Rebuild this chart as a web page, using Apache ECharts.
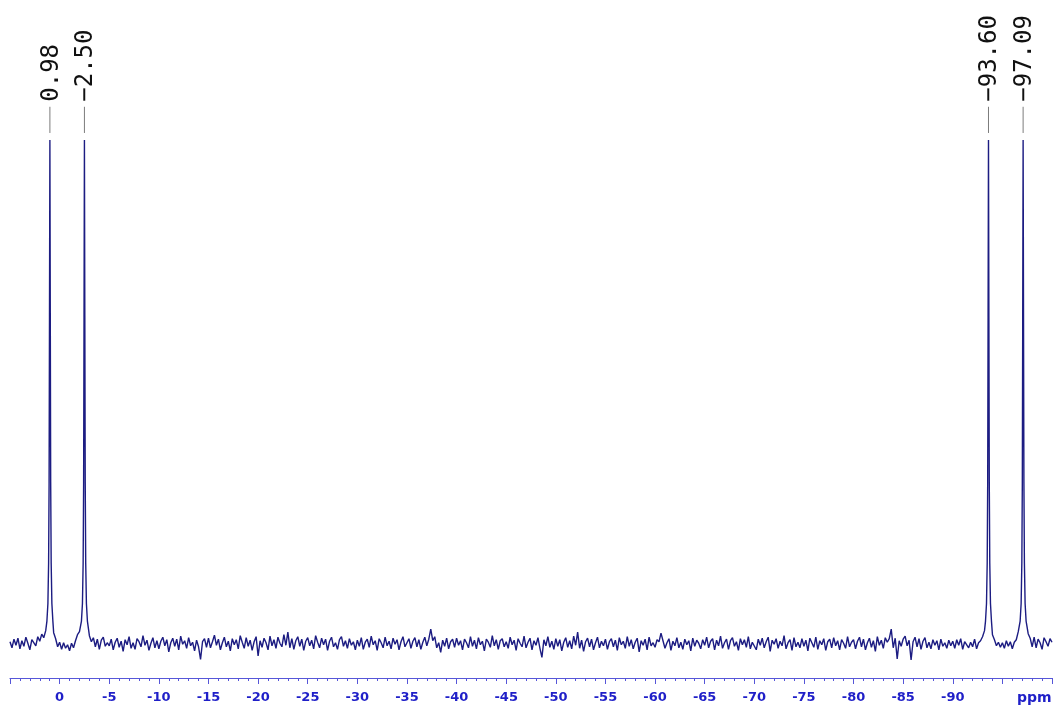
<!DOCTYPE html>
<html>
<head>
<meta charset="utf-8">
<script src="https://cdn.jsdelivr.net/npm/echarts@6.0.0/dist/echarts.min.js"></script>
<style>
  html, body { margin: 0; padding: 0; background: #ffffff; }
  #chart { width: 1056px; height: 709px; }
</style>
</head>
<body>
<div id="chart"></div>
<script>
// ---- Data ----
// Peak positions (ppm) and their printed labels
const peakPpm = [0.98, -2.50, -93.60, -97.09];
const peakLabels = ['0.98', '-2.50', '-93.60', '-97.09'];
// Peak line-shape samples: offset from peak centre (ppm) and relative intensity
const peakOffsets = [-0.3, -0.2, -0.13, -0.08, -0.04, 0, 0.04, 0.08, 0.13, 0.2, 0.3];
const peakHeights = [4.5, 8, 16, 32, 65, 100, 65, 32, 16, 8, 4.5];
// Baseline noise, sampled every 0.2 ppm from +5.0 to -100.0 ppm (null = under a peak)
const noiseStart = 5.0;
const noiseStep = 0.2;
const noise = [
  0.4, -0.8, 0.9, -0.3, 1.1, -1.0, 0.6, -0.5, 1.3, 0.1, -1.2, 0.8, 1.0, -0.4, 1.4, 0.5, 1.9, 1.2, 2.6, null, null, null, 2.2, 1.0, -0.6,
  0.3, -1.1, 0.2, -0.9, -0.2, -1.4, 0.1, -0.8, 0.6, 1.8, 2.4, null, null, null, null, 1.6, 0.4, 1.2, -0.6, 0.9, -1.1, 0.7, 1.3, -0.5, 0.2,
  -0.4, 0.9, -1.2, 0.3, 1.1, -0.7, 0.5, -1.5, 0.8, -0.2, 1.4, -0.9, 0.2, -1.1, 1.0, 0.4, -0.6, 1.6, -0.3, 0.7, -1.3, 0.1, 1.2, -0.8, 0.6,
  -1.0, 0.5, 1.3, -0.4, 0.8, -1.6, 0.2, 1.1, -0.5, 0.9, -1.2, 1.5, -0.1, 0.6, -0.9, 1.2, -0.4, 0.3, -1.4, 0.7, -0.6, -3.1, 0.4, 1.0, -0.7,
  1.1, -0.8, 0.4, 1.7, -0.3, 0.9, -1.2, 0.2, 1.3, -0.6, 0.5, -1.4, 1.0, -0.2, 0.8, -1.0, 1.6, 0.3, -0.9, 1.2, -0.5, 0.7, -1.3, 0.4, 1.4,
  -2.4, 0.6, -0.7, 1.1, 0.2, -1.2, 1.5, -0.4, 0.8, -0.9, 1.3, 0.1, -0.6, 1.8, -0.3, 2.3, -0.8, 1.0, -1.1, 0.6, 1.4, -0.5, 0.9, -1.3, 0.5,
  1.2, -0.4, 0.7, -1.0, 1.6, 0.3, -0.8, 1.1, -0.2, 0.9, -1.3, 0.5, 1.3, -0.6, 0.2, -1.1, 0.8, 1.4, -0.5, 0.6, -0.9, 1.0, -0.3, 0.4, -1.2,
  0.7, -0.5, 1.2, -1.1, 0.3, 0.9, -0.7, 1.5, -0.2, 0.6, -1.3, 1.0, 0.2, -0.8, 1.3, -0.4, 0.5, -1.0, 1.1, -0.1, 0.8, -1.2, 0.4, 1.4, -0.6,
  -0.3, 1.0, -0.9, 0.5, 1.2, -0.6, 0.8, -1.1, 0.3, 1.3, -0.4, 0.9, 2.9, 0.6, 1.4, -0.8, 0.2, -1.7, 0.7, -0.5, 1.1, -1.0, 0.4, 0.9, -0.7,
  1.1, -0.3, 0.6, -1.2, 0.9, 0.2, -0.8, 1.4, -0.5, 0.7, -1.0, 1.2, -0.2, 0.5, -1.4, 0.9, 0.3, -0.7, 1.6, -0.4, 0.8, -1.1, 0.6, 1.0, -0.6,
  0.4, -0.9, 1.3, -0.2, 0.7, -1.3, 1.0, 0.1, -0.6, 1.5, -0.8, 0.3, 1.1, -1.2, 0.6, -0.3, 1.2, -0.9, -2.7, 0.8, -0.4, 1.4, -0.7, 0.5, -1.1,
  1.0, -0.5, 0.8, -1.4, 0.3, 1.2, -0.7, 0.6, -1.0, 1.5, -0.3, 2.3, -0.9, 0.7, -1.5, 0.4, 1.1, -0.6, 0.9, -1.2, 0.2, 1.3, -0.8, 0.5, -0.4,
  0.9, -1.1, 0.4, 1.0, -0.6, 0.7, -1.3, 1.2, -0.2, 0.5, -0.9, 1.4, -0.5, 0.8, -1.0, 0.3, 1.1, -1.6, 0.6, -0.3, 0.9, -1.2, 1.3, -0.4, 0.2,
  -0.7, 0.8, 0.4, 2.1, 0.6, -0.9, 0.2, 1.0, -1.3, 0.5, -0.4, 1.2, -0.8, 0.3, -1.1, 0.9, -0.2, 0.6, -1.4, 1.1, -0.5, 0.7, 0.1, -1.0, 0.8,
  -0.3, 1.3, -0.8, 0.5, 1.0, -1.2, 0.7, -0.4, 1.5, -0.9, 0.2, 0.9, -1.1, 0.6, 1.2, -0.5, 0.4, -1.3, 1.0, -0.2, 0.8, -0.7, 1.4, -1.0, 0.3,
  0.6, -1.2, 0.9, -0.3, 1.1, -0.8, 0.4, 1.3, -1.5, 0.7, -0.1, 1.0, -0.9, 0.5, -0.4, 1.6, -1.0, 0.2, 0.8, -1.3, 1.2, -0.6, 0.3, -0.8, 1.0,
  -0.5, 0.7, -1.4, 1.1, 0.2, -0.7, 1.3, -1.1, 0.6, -0.2, 1.0, -1.3, 0.4, 0.9, -0.8, 1.2, -0.4, 0.6, -1.2, 0.8, 0.1, -0.9, 1.4, -0.6, 0.3,
  0.8, -1.0, 0.5, 1.3, -0.6, 0.9, -1.2, 0.2, 1.1, -0.7, 0.6, -1.5, 1.4, -0.3, 0.7, -0.9, 1.2, 0.3, 1.0, 2.9, -0.8, 1.1, -3.0, 0.6, -0.5,
  0.9, 1.5, -0.4, 0.7, -3.2, 0.4, 1.3, -0.6, 1.0, -1.1, 0.5, 1.2, -0.8, 0.3, -1.0, 0.8, -0.3, 0.6, -1.2, 0.9, -0.5, 0.2, -0.9, 0.7, -0.4,
  0.5, -0.9, 0.8, -0.3, 1.0, -1.1, 0.4, 0.7, -0.8, 0.3, -0.6, 0.9, -1.0, 0.2, 0.6, 1.4, 2.6, null, null, null, 1.8, 0.8, -0.4, 0.3, -0.7,
  0.2, -0.9, 0.6, -0.5, 0.4, -1.0, 0.3, 0.8, 2.4, null, null, null, null, 2.0, 1.1, -0.6, 1.3, -0.8, 0.9, 0.2, -1.1, 1.2, 0.4, -0.5, 1.0,
  0.3
];
// Axis: ppm from +5 to -100, ticks every 5 ppm, labelled 0 ... -90
const axisMin = -100, axisMax = 5, axisStep = 5;
const axisUnit = 'ppm';

// ---- Build the spectrum trace ----
const spectrum = [];
noise.forEach(function (v, i) {
  if (v === null) return;
  spectrum.push([+(noiseStart - i * noiseStep).toFixed(2), v]);
});
peakPpm.forEach(function (p) {
  peakOffsets.forEach(function (o, j) {
    spectrum.push([+(p + o).toFixed(3), peakHeights[j]]);
  });
});
spectrum.sort(function (a, b) { return b[0] - a[0]; });

function prettyLabel(s) { return s.replace('-', '\u2212'); }

const chart = echarts.init(document.getElementById('chart'), null, { renderer: 'canvas' });
chart.setOption({
  animation: false,
  backgroundColor: '#ffffff',
  grid: { left: 10, right: 4, top: 0, bottom: 31, containLabel: false },
  xAxis: {
    type: 'value',
    inverse: true,
    min: axisMin,
    max: axisMax,
    interval: axisStep,
    splitLine: { show: false },
    axisLine: { onZero: false, lineStyle: { color: '#5656d8', width: 1.2 } },
    axisTick: { show: true, length: 6, lineStyle: { color: '#5656d8' } },
    minorTick: { show: true, splitNumber: 5, length: 3, lineStyle: { color: '#5656d8' } },
    axisLabel: {
      show: true,
      interval: 0,
      showMinLabel: true,
      showMaxLabel: true,
      margin: 13,
      color: '#1f1fc8',
      fontFamily: 'DejaVu Sans',
      fontWeight: 'bold',
      fontSize: 13,
      formatter: function (v) {
        if (v === axisMin) return '{u|' + axisUnit + '}';
        if (v > 0 || v === axisMin + axisStep) return '';
        return String(v);
      },
      rich: {
        u: { width: 70, align: 'left', color: '#1f1fc8', fontFamily: 'DejaVu Sans', fontWeight: 'bold', fontSize: 14 }
      }
    }
  },
  yAxis: {
    type: 'value',
    show: false,
    min: -6.8,
    max: 127.8,
    splitLine: { show: false }
  },
  series: [
    {
      type: 'line',
      data: spectrum,
      showSymbol: false,
      symbol: 'none',
      silent: true,
      lineStyle: { color: '#1c1c82', width: 1.4 },
      z: 2
    },
    {
      type: 'custom',
      data: peakPpm.map(function (p, i) { return [p, i]; }),
      silent: true,
      z: 3,
      renderItem: function (params, api) {
        const ppm = api.value(0);
        const idx = api.value(1);
        const a = api.coord([ppm, 101.4]);
        const b = api.coord([ppm, 106.6]);
        const t = api.coord([ppm, 107.6]);
        return {
          type: 'group',
          children: [
            { type: 'line', shape: { x1: a[0], y1: a[1], x2: b[0], y2: b[1] },
              style: { stroke: '#7c7c7c', lineWidth: 1 } },
            { type: 'text', x: t[0] + 1.5, y: t[1], rotation: Math.PI / 2,
              style: { text: prettyLabel(peakLabels[idx]), x: 0, y: 0, align: 'left', verticalAlign: 'middle',
                       font: '24px "DejaVu Sans Mono"', fill: '#111111' } }
          ]
        };
      }
    }
  ]
});
</script>
</body>
</html>
